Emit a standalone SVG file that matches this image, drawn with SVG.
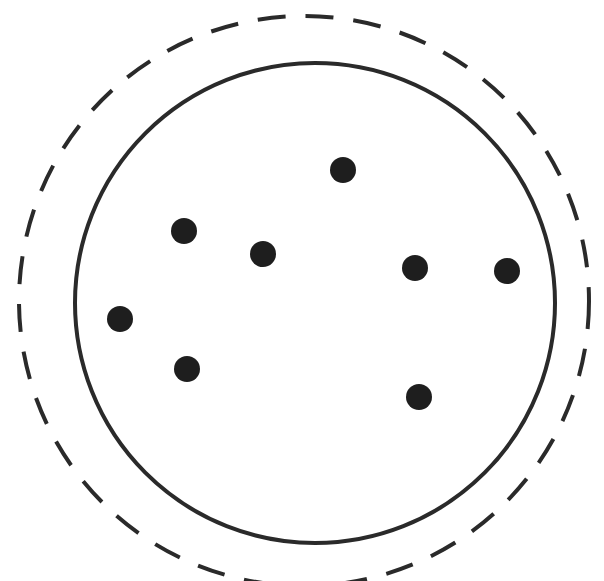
<svg xmlns="http://www.w3.org/2000/svg" width="604" height="581" viewBox="0 0 604 581">
<style>
.outer{fill:none;stroke:#2a2a2a;stroke-width:4;stroke-dasharray:28 20}
.inner{fill:none;stroke:#2a2a2a;stroke-width:4}
.dot{fill:#1e1e1e}
</style>
<rect width="604" height="581" fill="#ffffff"/>
<g id="boundary">
<circle class="outer" cx="304" cy="301" r="285"/>
</g>
<g id="region">
<circle class="inner" cx="315" cy="303" r="240"/>
</g>
<g id="points">
<circle class="dot" cx="343" cy="170" r="13"/>
<circle class="dot" cx="184" cy="231" r="13"/>
<circle class="dot" cx="263" cy="254" r="13"/>
<circle class="dot" cx="415" cy="268" r="13"/>
<circle class="dot" cx="507" cy="271" r="13"/>
<circle class="dot" cx="120" cy="319" r="13"/>
<circle class="dot" cx="187" cy="369" r="13"/>
<circle class="dot" cx="419" cy="397" r="13"/>
</g>
</svg>
